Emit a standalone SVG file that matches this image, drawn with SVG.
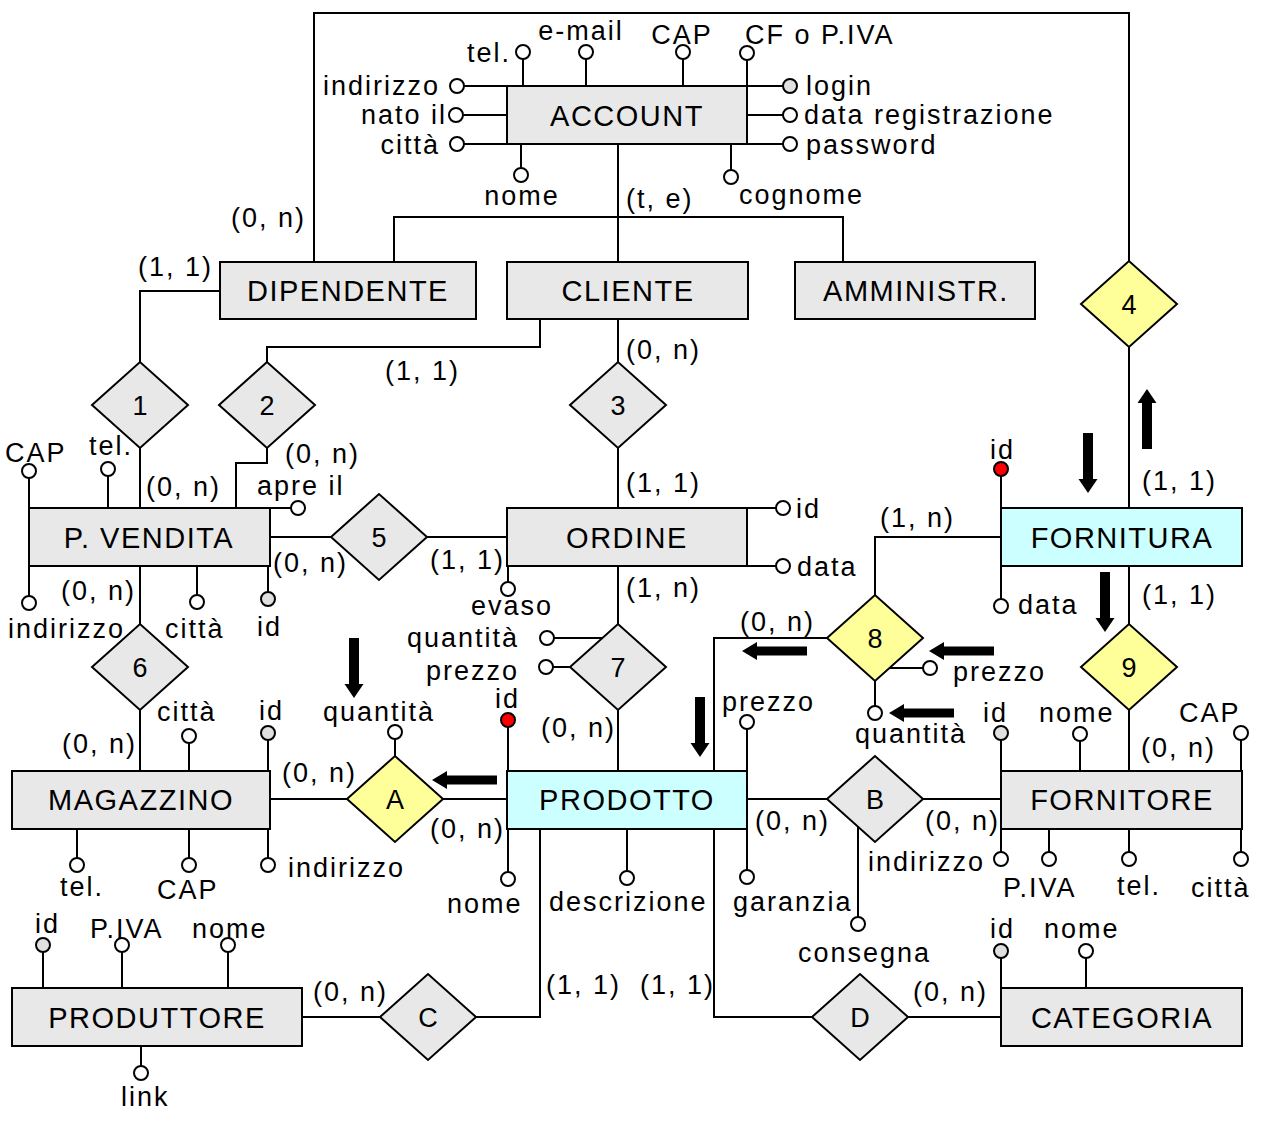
<svg xmlns="http://www.w3.org/2000/svg" xmlns:xlink="http://www.w3.org/1999/xlink" width="1262" height="1124" viewBox="0 0 1262 1124">
  <style>
    text { font-family: "Liberation Sans", Arial, sans-serif; fill: #000; }
    .t { font-size: 27px; letter-spacing: 2px; }
    .n { font-size: 29px; letter-spacing: 1.5px; text-anchor: middle; }
    .m { text-anchor: middle; }
    .e { text-anchor: end; }
    .ent { fill: #e8e8e8; stroke: #000; stroke-width: 2; }
    .cyan { fill: #ccffff; }
    .rel { fill: #e8e8e8; stroke: #000; stroke-width: 2; }
    .yel { fill: #ffff99; }
    .ln { fill: none; stroke: #000; stroke-width: 2; }
    .at { fill: #fff; stroke: #000; stroke-width: 2; }
    .key { fill: #e0e0e0; }
    .red { fill: #ff0000; }
    .arr { fill: #000; }
  </style>
  <defs>
    <!-- thick arrow pointing down, tip at origin -->
    <path id="arrow-v" d="M-5,-60 L5,-60 L5,-14 L9.5,-14 L0,0 L-9.5,-14 L-5,-14 Z"/>
    <!-- thick arrow pointing left, tip at origin -->
    <path id="arrow-h" d="M0,0 L15,-9 L15,-4.5 L65,-4.5 L65,4.5 L15,4.5 L15,9 Z"/>
    <path id="dia" d="M-48,0 L0,-43 L48,0 L0,43 Z"/>
  </defs>

  <!-- connectors between entities and relationships -->
  <g id="connectors" class="ln">
    <polyline points="314,262 314,13 1129,13 1129,261"/>
    <line x1="618" y1="144" x2="618" y2="262"/>
    <polyline points="394,262 394,217 843,217 843,262"/>
    <polyline points="220,291 140,291 140,362"/>
    <line x1="140" y1="448" x2="140" y2="508"/>
    <polyline points="540,319 540,347 267,347 267,362"/>
    <polyline points="267,448 267,463 236,463 236,508"/>
    <line x1="618" y1="319" x2="618" y2="362"/>
    <line x1="618" y1="448" x2="618" y2="508"/>
    <line x1="270" y1="537" x2="331" y2="537"/>
    <line x1="427" y1="537" x2="507" y2="537"/>
    <line x1="140" y1="566" x2="140" y2="624"/>
    <line x1="140" y1="710" x2="140" y2="771"/>
    <line x1="618" y1="566" x2="618" y2="624"/>
    <line x1="618" y1="710" x2="618" y2="771"/>
    <line x1="270" y1="799" x2="347" y2="799"/>
    <line x1="443" y1="799" x2="507" y2="799"/>
    <polyline points="714,771 714,638 827,638"/>
    <polyline points="1001,537 875,537 875,595"/>
    <line x1="1129" y1="347" x2="1129" y2="508"/>
    <line x1="1129" y1="566" x2="1129" y2="624"/>
    <line x1="1129" y1="710" x2="1129" y2="771"/>
    <line x1="747" y1="799" x2="827" y2="799"/>
    <line x1="923" y1="799" x2="1001" y2="799"/>
    <polyline points="540,829 540,1017 476,1017"/>
    <polyline points="714,829 714,1017 812,1017"/>
    <line x1="302" y1="1017" x2="380" y2="1017"/>
    <line x1="908" y1="1017" x2="1001" y2="1017"/>
  </g>

  <!-- cardinalities and hierarchy label -->
  <g id="cardinalities" class="t">
    <text x="626" y="208">(t, e)</text>
    <text x="231" y="227">(0, n)</text>
    <text x="138" y="276">(1, 1)</text>
    <text x="146" y="496">(0, n)</text>
    <text x="385" y="380">(1, 1)</text>
    <text x="285" y="463">(0, n)</text>
    <text x="626" y="359">(0, n)</text>
    <text x="626" y="492">(1, 1)</text>
    <text x="273" y="572">(0, n)</text>
    <text x="430" y="569">(1, 1)</text>
    <text x="61" y="600">(0, n)</text>
    <text x="62" y="753">(0, n)</text>
    <text x="626" y="597">(1, n)</text>
    <text x="541" y="737">(0, n)</text>
    <text x="282" y="782">(0, n)</text>
    <text x="430" y="838">(0, n)</text>
    <text x="740" y="631">(0, n)</text>
    <text x="880" y="527">(1, n)</text>
    <text x="1142" y="490">(1, 1)</text>
    <text x="1142" y="604">(1, 1)</text>
    <text x="1141" y="757">(0, n)</text>
    <text x="755" y="830">(0, n)</text>
    <text x="925" y="830">(0, n)</text>
    <text x="546" y="994">(1, 1)</text>
    <text x="640" y="994">(1, 1)</text>
    <text x="313" y="1001">(0, n)</text>
    <text x="913" y="1001">(0, n)</text>
  </g>

  <!-- direction arrows -->
  <g id="arrows" class="arr">
    <use xlink:href="#arrow-v" transform="translate(354,698)"/>
    <use xlink:href="#arrow-v" transform="translate(700,757)"/>
    <use xlink:href="#arrow-v" transform="translate(1088,493)"/>
    <use xlink:href="#arrow-v" transform="translate(1147,389) rotate(180)"/>
    <use xlink:href="#arrow-v" transform="translate(1105,632)"/>
    <use xlink:href="#arrow-h" transform="translate(432,780)"/>
    <use xlink:href="#arrow-h" transform="translate(742,651)"/>
    <use xlink:href="#arrow-h" transform="translate(929,651)"/>
    <use xlink:href="#arrow-h" transform="translate(889,713)"/>
  </g>

  <!-- ACCOUNT -->
  <g id="account">
    <g class="ln">
      <line x1="523" y1="86" x2="523" y2="59"/>
      <line x1="586" y1="86" x2="586" y2="59"/>
      <line x1="683" y1="86" x2="683" y2="59"/>
      <line x1="747" y1="144" x2="747" y2="60"/>
      <line x1="464" y1="86" x2="507" y2="86"/>
      <line x1="463" y1="115" x2="507" y2="115"/>
      <line x1="464" y1="144" x2="507" y2="144"/>
      <line x1="747" y1="86" x2="783" y2="86"/>
      <line x1="747" y1="115" x2="783" y2="115"/>
      <line x1="747" y1="144" x2="783" y2="144"/>
      <line x1="521" y1="144" x2="521" y2="168"/>
      <line x1="731" y1="144" x2="731" y2="170"/>
    </g>
    <rect class="ent" x="507" y="86" width="240" height="58"/>
    <text class="n" x="627" y="126">ACCOUNT</text>
    <circle class="at" cx="523" cy="52" r="7"/>
    <circle class="at" cx="586" cy="52" r="7"/>
    <circle class="at" cx="683" cy="52" r="7"/>
    <circle class="at" cx="747" cy="53" r="7"/>
    <circle class="at" cx="457" cy="86" r="7"/>
    <circle class="at" cx="456" cy="115" r="7"/>
    <circle class="at" cx="457" cy="144" r="7"/>
    <circle class="at key" cx="790" cy="86" r="7"/>
    <circle class="at" cx="790" cy="115" r="7"/>
    <circle class="at" cx="790" cy="144" r="7"/>
    <circle class="at" cx="521" cy="175" r="7"/>
    <circle class="at" cx="731" cy="177" r="7"/>
    <g class="t">
      <text class="e" x="511" y="62">tel.</text>
      <text class="m" x="581" y="40">e-mail</text>
      <text class="m" x="682" y="44">CAP</text>
      <text x="745" y="44">CF o P.IVA</text>
      <text class="e" x="440" y="95">indirizzo</text>
      <text class="e" x="447" y="124">nato il</text>
      <text class="e" x="440" y="154">città</text>
      <text x="806" y="95">login</text>
      <text x="804" y="124">data registrazione</text>
      <text x="806" y="154">password</text>
      <text class="m" x="522" y="205">nome</text>
      <text x="739" y="204">cognome</text>
    </g>
  </g>

  <g id="dipendente">
    <rect class="ent" x="220" y="262" width="256" height="57"/>
    <text class="n" x="348" y="301">DIPENDENTE</text>
  </g>
  <g id="cliente">
    <rect class="ent" x="507" y="262" width="241" height="57"/>
    <text class="n" x="628" y="301">CLIENTE</text>
  </g>
  <g id="amministratore">
    <rect class="ent" x="795" y="262" width="240" height="57"/>
    <text class="n" x="916" y="301">AMMINISTR.</text>
  </g>

  <!-- P. VENDITA -->
  <g id="punto-vendita">
    <g class="ln">
      <line x1="29" y1="508" x2="29" y2="478"/>
      <line x1="108" y1="508" x2="108" y2="476"/>
      <line x1="270" y1="508" x2="291" y2="508"/>
      <line x1="29" y1="566" x2="29" y2="596"/>
      <line x1="197" y1="566" x2="197" y2="595"/>
      <line x1="268" y1="566" x2="268" y2="592"/>
    </g>
    <rect class="ent" x="29" y="508" width="241" height="58"/>
    <text class="n" x="149" y="548">P. VENDITA</text>
    <circle class="at" cx="29" cy="471" r="7"/>
    <circle class="at" cx="108" cy="469" r="7"/>
    <circle class="at" cx="298" cy="508" r="7"/>
    <circle class="at" cx="29" cy="603" r="7"/>
    <circle class="at" cx="197" cy="602" r="7"/>
    <circle class="at key" cx="268" cy="599" r="7"/>
    <g class="t">
      <text x="5" y="462">CAP</text>
      <text x="89" y="455">tel.</text>
      <text x="257" y="495">apre il</text>
      <text x="8" y="638">indirizzo</text>
      <text x="165" y="638">città</text>
      <text x="257" y="636">id</text>
    </g>
  </g>

  <!-- ORDINE -->
  <g id="ordine">
    <g class="ln">
      <line x1="747" y1="508" x2="776" y2="508"/>
      <line x1="747" y1="566" x2="776" y2="566"/>
      <line x1="508" y1="566" x2="508" y2="582"/>
    </g>
    <rect class="ent" x="507" y="508" width="240" height="58"/>
    <text class="n" x="627" y="548">ORDINE</text>
    <circle class="at" cx="783" cy="508" r="7"/>
    <circle class="at" cx="783" cy="566" r="7"/>
    <circle class="at" cx="508" cy="589" r="7"/>
    <g class="t">
      <text x="796" y="518">id</text>
      <text x="797" y="576">data</text>
      <text x="471" y="615">evaso</text>
    </g>
  </g>

  <!-- FORNITURA -->
  <g id="fornitura">
    <g class="ln">
      <line x1="1001" y1="508" x2="1001" y2="476"/>
      <line x1="1001" y1="566" x2="1001" y2="599"/>
    </g>
    <rect class="ent cyan" x="1001" y="508" width="241" height="58"/>
    <text class="n" x="1122" y="548">FORNITURA</text>
    <circle class="at red" cx="1001" cy="469" r="7"/>
    <circle class="at" cx="1001" cy="606" r="7"/>
    <g class="t">
      <text x="990" y="459">id</text>
      <text x="1018" y="614">data</text>
    </g>
  </g>

  <!-- MAGAZZINO -->
  <g id="magazzino">
    <g class="ln">
      <line x1="189" y1="771" x2="189" y2="743"/>
      <line x1="268" y1="771" x2="268" y2="740"/>
      <line x1="77" y1="829" x2="77" y2="858"/>
      <line x1="189" y1="829" x2="189" y2="858"/>
      <line x1="268" y1="829" x2="268" y2="858"/>
    </g>
    <rect class="ent" x="12" y="771" width="258" height="58"/>
    <text class="n" x="141" y="810">MAGAZZINO</text>
    <circle class="at" cx="189" cy="736" r="7"/>
    <circle class="at key" cx="268" cy="733" r="7"/>
    <circle class="at" cx="77" cy="865" r="7"/>
    <circle class="at" cx="189" cy="865" r="7"/>
    <circle class="at" cx="268" cy="865" r="7"/>
    <g class="t">
      <text x="157" y="721">città</text>
      <text x="259" y="720">id</text>
      <text x="60" y="896">tel.</text>
      <text x="157" y="899">CAP</text>
      <text x="288" y="877">indirizzo</text>
    </g>
  </g>

  <!-- PRODOTTO -->
  <g id="prodotto">
    <g class="ln">
      <line x1="508" y1="771" x2="508" y2="727"/>
      <line x1="747" y1="771" x2="747" y2="729"/>
      <line x1="508" y1="829" x2="508" y2="872"/>
      <line x1="627" y1="829" x2="627" y2="871"/>
      <line x1="747" y1="829" x2="747" y2="870"/>
    </g>
    <rect class="ent cyan" x="507" y="771" width="240" height="58"/>
    <text class="n" x="627" y="810">PRODOTTO</text>
    <circle class="at red" cx="508" cy="720" r="7"/>
    <circle class="at" cx="747" cy="722" r="7"/>
    <circle class="at" cx="508" cy="879" r="7"/>
    <circle class="at" cx="627" cy="878" r="7"/>
    <circle class="at" cx="747" cy="877" r="7"/>
    <g class="t">
      <text x="495" y="708">id</text>
      <text x="722" y="711">prezzo</text>
      <text x="447" y="913">nome</text>
      <text x="549" y="911">descrizione</text>
      <text x="733" y="911">garanzia</text>
    </g>
  </g>

  <!-- FORNITORE -->
  <g id="fornitore">
    <g class="ln">
      <line x1="1001" y1="771" x2="1001" y2="740"/>
      <line x1="1080" y1="771" x2="1080" y2="741"/>
      <line x1="1241" y1="771" x2="1241" y2="740"/>
      <line x1="1001" y1="829" x2="1001" y2="852"/>
      <line x1="1049" y1="829" x2="1049" y2="852"/>
      <line x1="1129" y1="829" x2="1129" y2="852"/>
      <line x1="1241" y1="829" x2="1241" y2="852"/>
    </g>
    <rect class="ent" x="1001" y="771" width="241" height="58"/>
    <text class="n" x="1122" y="810">FORNITORE</text>
    <circle class="at key" cx="1001" cy="733" r="7"/>
    <circle class="at" cx="1080" cy="734" r="7"/>
    <circle class="at" cx="1241" cy="733" r="7"/>
    <circle class="at" cx="1001" cy="859" r="7"/>
    <circle class="at" cx="1049" cy="859" r="7"/>
    <circle class="at" cx="1129" cy="859" r="7"/>
    <circle class="at" cx="1241" cy="859" r="7"/>
    <g class="t">
      <text x="983" y="722">id</text>
      <text x="1039" y="722">nome</text>
      <text x="1179" y="722">CAP</text>
      <text class="e" x="985" y="871">indirizzo</text>
      <text x="1003" y="897">P.IVA</text>
      <text x="1117" y="895">tel.</text>
      <text x="1191" y="897">città</text>
    </g>
  </g>

  <!-- PRODUTTORE -->
  <g id="produttore">
    <g class="ln">
      <line x1="43" y1="988" x2="43" y2="952"/>
      <line x1="122" y1="988" x2="122" y2="952"/>
      <line x1="228" y1="988" x2="228" y2="952"/>
      <line x1="141" y1="1046" x2="141" y2="1066"/>
    </g>
    <rect class="ent" x="12" y="988" width="290" height="58"/>
    <text class="n" x="157" y="1028">PRODUTTORE</text>
    <circle class="at key" cx="43" cy="945" r="7"/>
    <circle class="at" cx="122" cy="945" r="7"/>
    <circle class="at" cx="228" cy="945" r="7"/>
    <circle class="at" cx="141" cy="1073" r="7"/>
    <g class="t">
      <text x="35" y="933">id</text>
      <text x="90" y="938">P.IVA</text>
      <text x="192" y="938">nome</text>
      <text x="121" y="1106">link</text>
    </g>
  </g>

  <!-- CATEGORIA -->
  <g id="categoria">
    <g class="ln">
      <line x1="1001" y1="988" x2="1001" y2="958"/>
      <line x1="1086" y1="988" x2="1086" y2="958"/>
    </g>
    <rect class="ent" x="1001" y="988" width="241" height="58"/>
    <text class="n" x="1122" y="1028">CATEGORIA</text>
    <circle class="at key" cx="1001" cy="951" r="7"/>
    <circle class="at" cx="1086" cy="951" r="7"/>
    <g class="t">
      <text x="990" y="938">id</text>
      <text x="1044" y="938">nome</text>
    </g>
  </g>

  <!-- relationships -->
  <g id="rel-1"><use xlink:href="#dia" class="rel" transform="translate(140,405)"/><text class="t m" x="141" y="415">1</text></g>
  <g id="rel-2"><use xlink:href="#dia" class="rel" transform="translate(267,405)"/><text class="t m" x="268" y="415">2</text></g>
  <g id="rel-3"><use xlink:href="#dia" class="rel" transform="translate(618,405)"/><text class="t m" x="619" y="415">3</text></g>
  <g id="rel-4"><use xlink:href="#dia" class="rel yel" transform="translate(1129,304)"/><text class="t m" x="1130" y="314">4</text></g>
  <g id="rel-5"><use xlink:href="#dia" class="rel" transform="translate(379,537)"/><text class="t m" x="380" y="547">5</text></g>
  <g id="rel-6"><use xlink:href="#dia" class="rel" transform="translate(140,667)"/><text class="t m" x="141" y="677">6</text></g>
  <g id="rel-7">
    <g class="ln">
      <line x1="554" y1="638" x2="603" y2="638"/>
      <line x1="553" y1="667" x2="570" y2="667"/>
    </g>
    <use xlink:href="#dia" class="rel" transform="translate(618,667)"/>
    <text class="t m" x="619" y="677">7</text>
    <circle class="at" cx="547" cy="638" r="7"/>
    <circle class="at" cx="546" cy="667" r="7"/>
    <text class="t e" x="519" y="647">quantità</text>
    <text class="t e" x="519" y="680">prezzo</text>
  </g>
  <g id="rel-8">
    <g class="ln">
      <line x1="889" y1="668" x2="923" y2="668"/>
      <line x1="875" y1="681" x2="875" y2="706"/>
    </g>
    <use xlink:href="#dia" class="rel yel" transform="translate(875,638)"/>
    <text class="t m" x="876" y="648">8</text>
    <circle class="at" cx="930" cy="668" r="7"/>
    <circle class="at" cx="875" cy="713" r="7"/>
    <text class="t" x="953" y="681">prezzo</text>
    <text class="t" x="855" y="743">quantità</text>
  </g>
  <g id="rel-9"><use xlink:href="#dia" class="rel yel" transform="translate(1129,667)"/><text class="t m" x="1130" y="677">9</text></g>
  <g id="rel-a">
    <line class="ln" x1="395" y1="756" x2="395" y2="739"/>
    <use xlink:href="#dia" class="rel yel" transform="translate(395,799)"/>
    <text class="t m" x="396" y="809">A</text>
    <circle class="at" cx="395" cy="732" r="7"/>
    <text class="t" x="323" y="721">quantità</text>
  </g>
  <g id="rel-b">
    <line class="ln" x1="858" y1="827" x2="858" y2="917"/>
    <use xlink:href="#dia" class="rel" transform="translate(875,799)"/>
    <text class="t m" x="876" y="809">B</text>
    <circle class="at" cx="858" cy="924" r="7"/>
    <text class="t" x="798" y="962">consegna</text>
  </g>
  <g id="rel-c"><use xlink:href="#dia" class="rel" transform="translate(428,1017)"/><text class="t m" x="429" y="1027">C</text></g>
  <g id="rel-d"><use xlink:href="#dia" class="rel" transform="translate(860,1017)"/><text class="t m" x="861" y="1027">D</text></g>
</svg>
